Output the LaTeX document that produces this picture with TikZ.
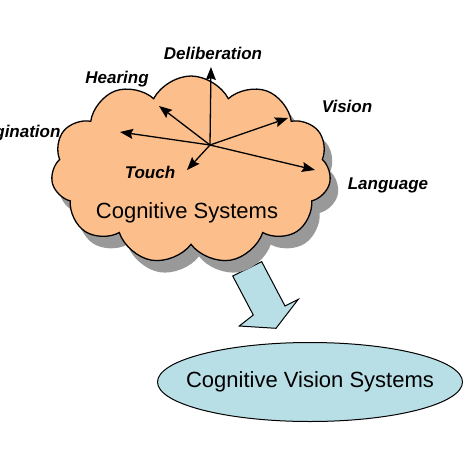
\documentclass[tikz,border=0pt]{standalone}
\usepackage{fontspec}
\setmainfont{Liberation Sans}
\usetikzlibrary{positioning, shapes.symbols, shapes.geometric, arrows.meta, shadows}
\definecolor{cloudorange}{RGB}{252,191,140}
\definecolor{ovalblue}{RGB}{185,223,230}
\definecolor{shadowgray}{RGB}{153,153,153}
\tikzset{
	cloudbox/.style={
		cloud,
		draw,
		cloud puffs=11,
		cloud puff arc=125,
		aspect=1.5,
		line width=1.3pt,
		fill=cloudorange,
		minimum width=280pt,
		minimum height=188pt,
		drop shadow={shadow xshift=8pt, shadow yshift=-12pt, fill=shadowgray, opacity=1},
	},
	oval/.style={
		ellipse,
		draw,
		line width=1pt,
		fill=ovalblue,
		inner sep=0pt,
		minimum width=305pt,
		minimum height=79pt,
		font=\fontsize{22}{26}\selectfont,
	},
	sense/.style={
		font=\fontsize{17}{20}\selectfont\bfseries\itshape,
	},
	spoke/.style={
		-{Stealth[length=13pt, width=10pt, inset=2pt]},
		line width=1.3pt,
	},
	bigarrow/.style={
		draw,
		line width=1pt,
		fill=ovalblue,
		line join=miter,
	},
}

\begin{document}
\begin{tikzpicture}[x=1pt, y=-1pt]
		\clip (0,0) rectangle (474,474);
		
		% Block arrow (under the cloud shadow)
		\draw [bigarrow] (232.7,276) -- (253.3,315) -- (239.3,326) -- (276,328.3)
			-- (298.3,299.3) -- (285,306) -- (261.7,261.7) -- cycle;
		
		% Place nodes
		\node [cloudbox] (cloud) at (191,170) {};
		\node [font=\fontsize{22}{26}\selectfont] (cogsys) at (187,213) {Cognitive Systems};
		\node [oval] (cvs) at (310,382) {\makebox[0pt]{Cognitive Vision Systems}};
		
		\coordinate (hub) at (210,145);
		\coordinate (tipdel) at (211,67);
		\coordinate (tiphear) at (159,106);
		\coordinate (tipvis) at (288,118);
		\coordinate (tipimag) at (120,132);
		\coordinate (tiptouch) at (187,170);
		\coordinate (tiplang) at (315,170);
		
		\node [sense] (del) at (213,53) {Deliberation};
		\node [sense] (hear) at (117,79) {Hearing};
		\node [sense] (vis) at (347,106) {Vision};
		\node [sense, anchor=east] (imag) at (64,133) {Imagination};
		\node [sense] (touch) at (150,172) {Touch};
		\node [sense] (lang) at (388,185) {Language};
		
		\draw [spoke] (hub) to (tipdel);
		\draw [spoke] (hub) to (tiphear);
		\draw [spoke] (hub) to (tipvis);
		\draw [spoke] (hub) to (tipimag);
		\draw [spoke] (hub) to (tiptouch);
		\draw [spoke] (hub) to (tiplang);

	\end{tikzpicture}
\end{document}
